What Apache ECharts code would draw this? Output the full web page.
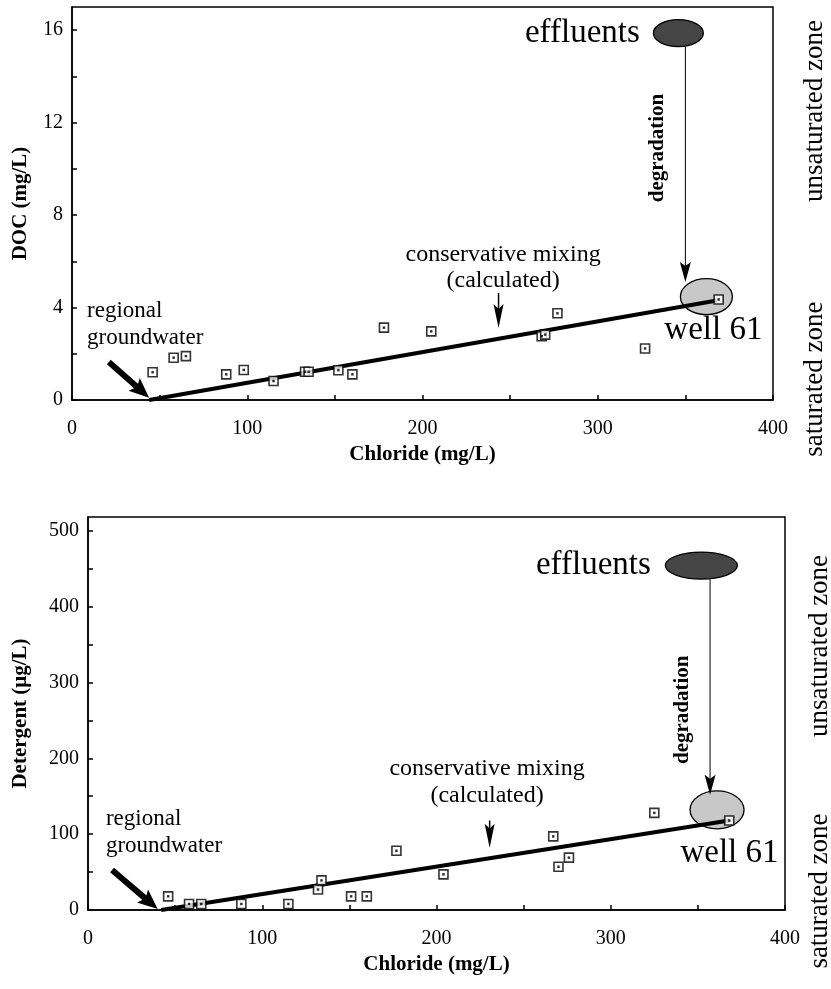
<!DOCTYPE html>
<html>
<head>
<meta charset="utf-8">
<script src="https://cdn.jsdelivr.net/npm/echarts@6/dist/echarts.min.js"></script>
<style>
  html, body { margin: 0; padding: 0; background: #fff; }
  #chart { width: 831px; height: 989px; }
</style>
</head>
<body>
<div id="chart"></div>
<script>
// top panel : DOC vs chloride
const chlorideTop = [46, 58, 65, 88, 98, 115, 133, 135, 152, 160, 178, 205, 268, 270, 277, 327, 369];
const docTop = [1.2, 1.83, 1.9, 1.11, 1.3, 0.82, 1.22, 1.22, 1.29, 1.11, 3.13, 2.97, 2.76, 2.83, 3.75, 2.23, 4.35];
// bottom panel : detergent vs chloride
const chlorideBottom = [46, 58, 65, 88, 115, 132, 134, 151, 160, 177, 204, 267, 270, 276, 325, 368];
const detergentBottom = [18, 8, 8, 8, 8, 27, 39, 18, 18, 78, 47, 97, 57, 69, 128, 118];

// conservative mixing lines (regional groundwater -> well 61)
const mixTopCl = [44, 368];
const mixTopDoc = [0, 4.3];
const mixBottomCl = [42, 368];
const mixBottomDet = [0, 118];

// ticks
const xLabels = [0, 100, 200, 300, 400];
const xTicks = [0, 50, 100, 150, 200, 250, 300, 350, 400];
const docLabels = [0, 4, 8, 12, 16];
const docTicks = [0, 2, 4, 6, 8, 10, 12, 14, 16];
const detLabels = [0, 100, 200, 300, 400, 500];
const detTicks = [0, 50, 100, 150, 200, 250, 300, 350, 400, 450, 500];

const SERIF = "'Liberation Serif', 'DejaVu Serif', serif";
const chart = echarts.init(document.getElementById('chart'));

function pairs(xs, ys) { return xs.map((x, i) => [x, ys[i]]); }

function axisBase(labels, ticks, margin) {
  return {
    type: 'value',
    axisLine: { onZero: false, lineStyle: { color: '#000', width: 1.5 } },
    axisTick: { inside: true, length: 5, customValues: ticks, lineStyle: { color: '#000', width: 1.5 } },
    axisLabel: { customValues: labels, fontFamily: SERIF, fontSize: 20, color: '#000', margin: margin },
    splitLine: { show: false },
    nameLocation: 'middle',
    nameTextStyle: { fontFamily: SERIF, fontWeight: 'bold', fontSize: 21, color: '#000' }
  };
}

// arrow : shaft + head polygon, p0 -> p1 (pixel coords)
function arrow(p0, p1, shaftW, headLen, headW) {
  const dx = p1[0] - p0[0], dy = p1[1] - p0[1];
  const len = Math.sqrt(dx * dx + dy * dy);
  const ux = dx / len, uy = dy / len, nx = -uy, ny = ux;
  const bx = p1[0] - ux * headLen, by = p1[1] - uy * headLen;
  const notch = [p1[0] - ux * headLen * 0.8, p1[1] - uy * headLen * 0.8];
  return [
    { type: 'line', shape: { x1: p0[0], y1: p0[1], x2: notch[0], y2: notch[1] },
      style: { stroke: '#000', lineWidth: shaftW } },
    { type: 'polygon', shape: { points: [p1, [bx + nx * headW / 2, by + ny * headW / 2], notch, [bx - nx * headW / 2, by - ny * headW / 2]] },
      style: { fill: '#000' } }
  ];
}

function txt(p, text, size, opts) {
  opts = opts || {};
  return {
    type: 'text', x: p[0], y: p[1], rotation: opts.rot || 0,
    style: {
      text: text, fill: '#000', align: opts.align || 'left', verticalAlign: 'middle',
      font: (opts.bold ? 'bold ' : '') + size + 'px ' + SERIF
    }
  };
}

function layer(idx, z, build) {
  return {
    type: 'custom', xAxisIndex: idx, yAxisIndex: idx, clip: false, silent: true, z: z,
    data: [[0, 0]],
    renderItem: (params, api) => ({ type: 'group', children: build(v => api.coord(v)) })
  };
}

function ellipse(c, rx, ry, fill) {
  return { type: 'ellipse', shape: { cx: c[0], cy: c[1], rx: rx, ry: ry }, style: { fill: fill, stroke: '#000', lineWidth: 1.3 } };
}

const option = {
  animation: false,
  backgroundColor: '#fff',
  grid: [
    { left: 72, right: 58, top: 7, height: 393, show: true, borderColor: '#000', borderWidth: 1.5 },
    { left: 88, right: 46, top: 517, height: 393, show: true, borderColor: '#000', borderWidth: 1.5 }
  ],
  xAxis: [
    Object.assign(axisBase(xLabels, xTicks, 19), { gridIndex: 0, min: 0, max: 400, name: 'Chloride (mg/L)', nameGap: 44 }),
    Object.assign(axisBase(xLabels, xTicks, 19), { gridIndex: 1, min: 0, max: 400, name: 'Chloride (mg/L)', nameGap: 44 })
  ],
  yAxis: [
    Object.assign(axisBase(docLabels, docTicks, 9), { gridIndex: 0, min: 0, max: 17, name: 'DOC (mg/L)', nameGap: 41 }),
    Object.assign(axisBase(detLabels, detTicks, 9), { gridIndex: 1, min: 0, max: 518, name: 'Detergent (\u03bcg/L)', nameGap: 57 })
  ],
  series: [
    // ellipses behind the mixing line
    layer(0, 1, c => [
      ellipse(c([346, 15.87]), 25, 13.5, '#454545'),
      ellipse(c([362, 4.47]), 26, 18, '#c8c8c8')
    ]),
    layer(1, 1, c => [
      ellipse(c([352, 454]), 36, 13.5, '#454545'),
      ellipse(c([361, 132]), 27, 19, '#c8c8c8')
    ]),
    { type: 'line', xAxisIndex: 0, yAxisIndex: 0, z: 3, symbol: 'none', data: pairs(mixTopCl, mixTopDoc),
      lineStyle: { color: '#000', width: 4 } },
    { type: 'line', xAxisIndex: 1, yAxisIndex: 1, z: 3, symbol: 'none', data: pairs(mixBottomCl, mixBottomDet),
      lineStyle: { color: '#000', width: 4 } },
    { type: 'scatter', xAxisIndex: 0, yAxisIndex: 0, z: 4, symbol: 'rect', symbolSize: 9, data: pairs(chlorideTop, docTop),
      itemStyle: { color: '#fff', borderColor: '#000', borderWidth: 1.6 } },
    { type: 'scatter', xAxisIndex: 0, yAxisIndex: 0, z: 5, symbol: 'rect', symbolSize: 2.5, data: pairs(chlorideTop, docTop),
      itemStyle: { color: '#000' } },
    { type: 'scatter', xAxisIndex: 1, yAxisIndex: 1, z: 4, symbol: 'rect', symbolSize: 9, data: pairs(chlorideBottom, detergentBottom),
      itemStyle: { color: '#fff', borderColor: '#000', borderWidth: 1.6 } },
    { type: 'scatter', xAxisIndex: 1, yAxisIndex: 1, z: 5, symbol: 'rect', symbolSize: 2.5, data: pairs(chlorideBottom, detergentBottom),
      itemStyle: { color: '#000' } },
    // text and arrows
    layer(0, 6, c => [
      txt(c([324, 15.87]), 'effluents', 33, { align: 'right' }),
      ...arrow(c([350, 15.3]), c([350, 5.1]), 1, 20, 11),
      txt(c([334, 10.9]), 'degradation', 21, { bold: true, align: 'center', rot: Math.PI / 2 }),
      txt(c([338, 3.0]), 'well 61', 33),
      txt(c([246, 6.3]), 'conservative mixing', 24, { align: 'center' }),
      txt(c([246, 5.15]), '(calculated)', 24, { align: 'center' }),
      ...arrow(c([243.4, 4.63]), c([243.4, 3.11]), 1.5, 24, 10),
      txt(c([8.6, 3.85]), 'regional', 23),
      txt(c([8.6, 2.68]), 'groundwater', 23),
      ...arrow(c([21, 1.64]), c([44, 0.1]), 6, 20, 17),
      txt(c([424, 12.5]), 'unsaturated zone', 27, { align: 'center', rot: Math.PI / 2 }),
      txt(c([424, 0.9]), 'saturated zone', 27, { align: 'center', rot: Math.PI / 2 })
    ]),
    layer(1, 6, c => [
      txt(c([323, 454]), 'effluents', 33, { align: 'right' }),
      ...arrow(c([357, 436]), c([357, 152]), 1, 20, 11),
      txt(c([341, 264]), 'degradation', 21, { bold: true, align: 'center', rot: Math.PI / 2 }),
      txt(c([340, 75]), 'well 61', 33),
      txt(c([229, 186]), 'conservative mixing', 24, { align: 'center' }),
      txt(c([229, 150]), '(calculated)', 24, { align: 'center' }),
      ...arrow(c([230.5, 118]), c([230.5, 82]), 1.5, 24, 10),
      txt(c([10.3, 120]), 'regional', 23),
      txt(c([10.3, 84]), 'groundwater', 23),
      ...arrow(c([13.8, 52.8]), c([40, 1.3]), 6, 20, 17),
      txt(c([420, 348]), 'unsaturated zone', 27, { align: 'center', rot: Math.PI / 2 }),
      txt(c([420, 25]), 'saturated zone', 27, { align: 'center', rot: Math.PI / 2 })
    ])
  ]
};

chart.setOption(option);
</script>
</body>
</html>
